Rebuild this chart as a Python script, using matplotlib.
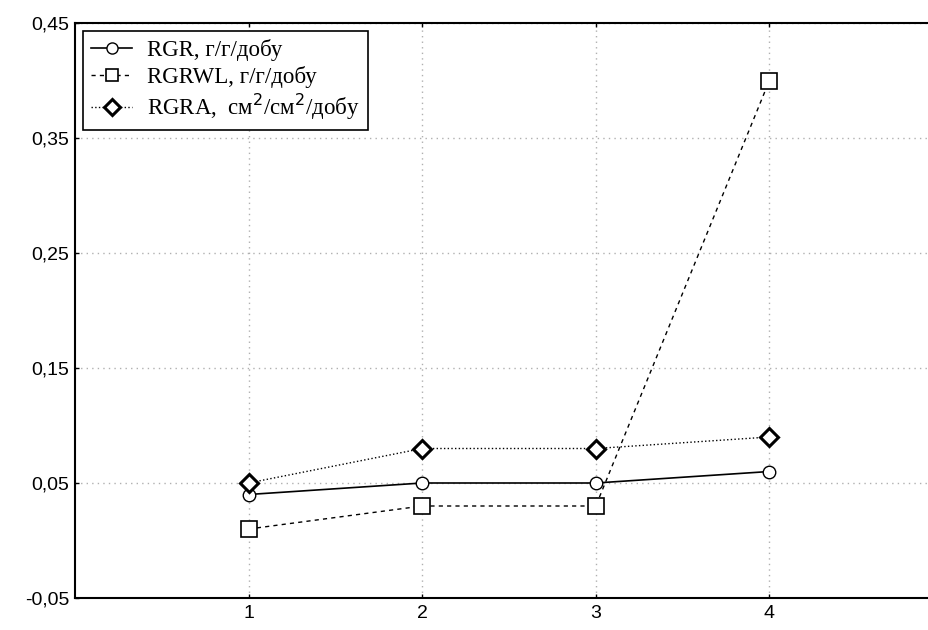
import matplotlib
matplotlib.use("Agg")
import matplotlib.pyplot as plt
from matplotlib.ticker import FixedLocator, FuncFormatter

x = [1, 2, 3, 4]
rgr = [0.04, 0.05, 0.05, 0.06]
rgrwl = [0.01, 0.03, 0.03, 0.40]
rgra = [0.05, 0.08, 0.08, 0.09]
yticks = [-0.05, 0.05, 0.15, 0.25, 0.35, 0.45]
xticks = [1, 2, 3, 4]
labels = ["RGR, г/г/добу", "RGRWL, г/г/добу", "RGRA,  см$^2$/см$^2$/добу"]

fig = plt.figure(figsize=(9.29, 6.30), dpi=100)
ax = fig.add_axes([75/929, 1 - 598/630, (5*173.6)/929, (598-23)/630])

ax.plot(x, rgr, '-', color='black', lw=1.2, marker='o', ms=9, mfc='white', mec='black', mew=1.0, label=labels[0])
ax.plot(x, rgrwl, '--', color='black', lw=1.0, dashes=(3, 3), marker='s', ms=11, mfc='white', mec='black', mew=1.2, label=labels[1])
ax.plot(x, rgra, ':', color='black', lw=1.0, marker='D', ms=9, mfc='white', mec='black', mew=2.2, label=labels[2])

ax.set_xlim(0, 5)
ax.set_ylim(-0.05, 0.45)
ax.yaxis.set_major_locator(FixedLocator(yticks))
ax.xaxis.set_major_locator(FixedLocator(xticks))
ax.yaxis.set_major_formatter(FuncFormatter(lambda v, p: f"{v:.2f}".replace('.', ',')))
ax.xaxis.set_major_formatter(FuncFormatter(lambda v, p: f"{int(round(v))}"))
ax.grid(True, color='#b0b0b0', linestyle=(0, (1, 3)), lw=1.0)
ax.tick_params(direction='in', length=3, width=1, labelsize=14, top=True, right=False)
ax.tick_params(axis='y', pad=4)
ax.tick_params(axis='x', pad=5)
for lab in ax.get_xticklabels() + ax.get_yticklabels():
    lab.set_family('Liberation Sans')
for s in ['left', 'bottom', 'top']:
    ax.spines[s].set_linewidth(1.5)
ax.spines['right'].set_visible(False)

leg = ax.legend(loc='upper left', bbox_to_anchor=(0.0, 1.0), fancybox=False, framealpha=1,
                edgecolor='black', prop={'family': 'Liberation Serif', 'size': 16.5},
                handlelength=1.8, borderaxespad=0.35, labelspacing=0.2, handletextpad=0.65,
                borderpad=0.35)
leg.get_frame().set_linewidth(1.2)
for h in leg.legend_handles:
    h.set_markersize(8)

fig.savefig('out.png', dpi=100)
